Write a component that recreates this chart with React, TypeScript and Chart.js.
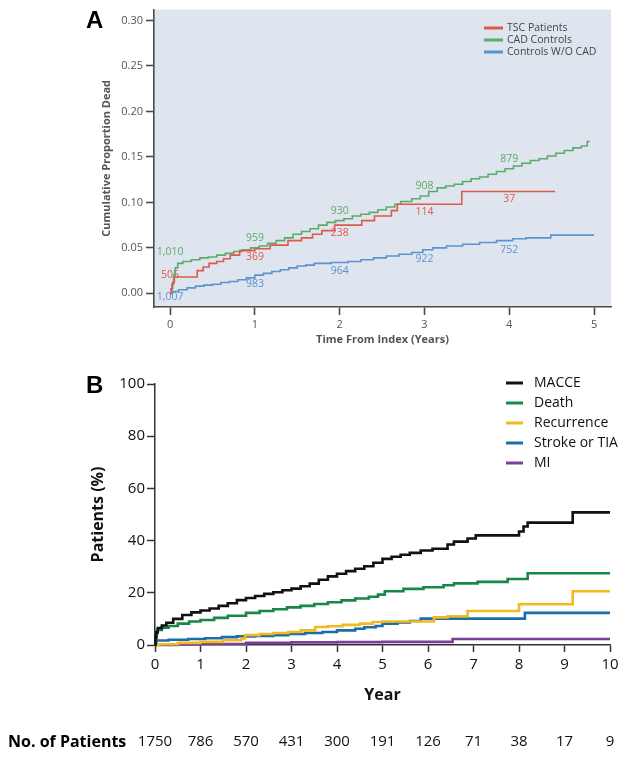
import React, { useEffect, useRef } from 'react';
import { Chart, registerables } from 'chart.js';
Chart.register(...registerables);

const FONT = '"Open Sans", "DejaVu Sans", sans-serif';
const BOLD_FONT = '"Liberation Sans", Arial, sans-serif';

// ---------------- Panel A data ----------------
const yearTicksA = [0, 1, 2, 3, 4, 5];
const propTicksA = [0, 0.05, 0.1, 0.15, 0.2, 0.25, 0.3];
const seriesNamesA = ['TSC Patients', 'CAD Controls', 'Controls W/O CAD'];

const tscTimes = [0, 0.01, 0.03, 0.05, 0.32, 0.39, 0.46, 0.55, 0.63, 0.71, 0.82, 1.0, 1.18, 1.39, 1.55, 1.68, 1.79, 1.94, 2.26, 2.41, 2.61, 2.68, 3.44, 4.54];
const tscValues = [0, 0.005, 0.012, 0.018, 0.025, 0.029, 0.033, 0.035, 0.038, 0.042, 0.047, 0.049, 0.053, 0.058, 0.061, 0.065, 0.069, 0.075, 0.08, 0.085, 0.091, 0.098, 0.112, 0.112];

const cadTimes = [0, 0.02, 0.04, 0.06, 0.09, 0.15, 0.25, 0.35, 0.45, 0.55, 0.65, 0.75, 0.85, 0.95, 1.05, 1.15, 1.25, 1.35, 1.45, 1.55, 1.65, 1.75, 1.85, 1.95, 2.05, 2.15, 2.25, 2.35, 2.45, 2.55, 2.65, 2.72, 2.85, 2.95, 3.05, 3.15, 3.25, 3.35, 3.45, 3.55, 3.65, 3.75, 3.85, 3.95, 4.05, 4.15, 4.25, 4.35, 4.45, 4.55, 4.65, 4.75, 4.85, 4.92, 4.95];
const cadValues = [0, 0.01, 0.02, 0.028, 0.033, 0.035, 0.037, 0.039, 0.04, 0.042, 0.044, 0.046, 0.048, 0.05, 0.052, 0.055, 0.058, 0.061, 0.065, 0.068, 0.071, 0.075, 0.078, 0.08, 0.082, 0.085, 0.087, 0.089, 0.092, 0.095, 0.098, 0.101, 0.104, 0.107, 0.112, 0.116, 0.118, 0.12, 0.123, 0.126, 0.128, 0.131, 0.134, 0.137, 0.14, 0.143, 0.146, 0.148, 0.151, 0.154, 0.157, 0.16, 0.162, 0.167, 0.167];

const noCadTimes = [0, 0.02, 0.1, 0.2, 0.3, 0.4, 0.5, 0.6, 0.7, 0.8, 0.9, 1.0, 1.1, 1.2, 1.3, 1.4, 1.5, 1.6, 1.7, 1.9, 2.1, 2.25, 2.4, 2.55, 2.7, 2.85, 2.98, 3.1, 3.26, 3.45, 3.65, 3.85, 4.04, 4.2, 4.49, 5.0];
const noCadValues = [0, 0.002, 0.004, 0.006, 0.008, 0.009, 0.01, 0.012, 0.013, 0.015, 0.017, 0.02, 0.022, 0.024, 0.026, 0.028, 0.03, 0.031, 0.033, 0.034, 0.035, 0.037, 0.039, 0.041, 0.043, 0.045, 0.048, 0.05, 0.052, 0.054, 0.056, 0.058, 0.06, 0.061, 0.064, 0.064];

const atRiskYearsA = [0, 1, 2, 3, 4];
const atRiskTSC = [505, 369, 238, 114, 37];
const atRiskCAD = [1010, 959, 930, 908, 879];
const atRiskNoCAD = [1007, 983, 964, 922, 752];

// ---------------- Panel B data ----------------
const yearTicksB = [0, 1, 2, 3, 4, 5, 6, 7, 8, 9, 10];
const pctTicksB = [0, 20, 40, 60, 80, 100];
const seriesNamesB = ['MACCE', 'Death', 'Recurrence', 'Stroke or TIA', 'MI'];

const macceTimes = [0, 0.01, 0.03, 0.06, 0.15, 0.25, 0.4, 0.6, 0.8, 1.0, 1.2, 1.4, 1.6, 1.8, 2.0, 2.2, 2.4, 2.6, 2.8, 3.0, 3.2, 3.4, 3.6, 3.8, 4.0, 4.2, 4.4, 4.6, 4.8, 5.0, 5.2, 5.4, 5.6, 5.84, 6.1, 6.43, 6.57, 6.87, 7.05, 8.0, 8.1, 8.19, 9.18, 10.0];
const macceValues = [0, 3, 5, 6.5, 7.5, 8.5, 10, 11.5, 12.5, 13.2, 14, 15, 16, 17.2, 18, 18.8, 19.6, 20.2, 21, 21.6, 22.5, 23.5, 25, 26.3, 27.3, 28.3, 29.2, 30.2, 31.5, 33, 33.8, 34.6, 35.3, 36.2, 36.9, 38.5, 39.6, 40.8, 42, 43.5, 45.4, 46.9, 50.8, 50.8];

const deathTimes = [0, 0.01, 0.03, 0.06, 0.15, 0.3, 0.5, 0.75, 1.0, 1.3, 1.6, 2.0, 2.3, 2.6, 2.9, 3.2, 3.5, 3.8, 4.1, 4.4, 4.7, 4.9, 5.05, 5.46, 5.9, 6.34, 6.57, 7.09, 7.75, 8.19, 10.0];
const deathValues = [0, 2.5, 4.5, 5.8, 6.6, 7.3, 8.2, 9, 9.6, 10.4, 11.2, 12.3, 13, 13.7, 14.4, 15, 15.7, 16.4, 17.1, 17.8, 18.5, 19.3, 20.6, 21.5, 22.1, 22.9, 23.6, 24.2, 25.3, 27.5, 27.5];

const recurTimes = [0, 0.1, 0.5, 1.0, 1.5, 1.9, 1.98, 2.3, 2.6, 2.93, 3.2, 3.52, 3.8, 4.12, 4.5, 4.78, 5.0, 6.13, 6.43, 6.87, 8.0, 9.18, 10.0];
const recurValues = [0, 0.3, 0.8, 1.2, 1.8, 2.5, 3.8, 4.2, 4.6, 5, 5.6, 6.9, 7.2, 7.7, 8.2, 8.8, 9.0, 10.6, 11.0, 13.0, 15.6, 20.6, 20.6];

const strokeTimes = [0, 0.01, 0.03, 0.3, 0.73, 1.1, 1.47, 1.8, 2.2, 2.6, 2.93, 3.3, 3.68, 4.0, 4.4, 4.6, 4.85, 5.0, 5.33, 5.6, 5.84, 8.13, 10.0];
const strokeValues = [0, 1, 1.7, 2.0, 2.3, 2.6, 3.0, 3.3, 3.5, 3.8, 4.2, 4.6, 5, 5.6, 6.2, 6.8, 7.3, 8.2, 8.6, 9.2, 10.1, 12.3, 12.3];

const miTimes = [0, 0.5, 1.0, 2.0, 3.0, 4.0, 5.0, 6.54, 10.0];
const miValues = [0, 0.2, 0.4, 0.8, 1.0, 1.1, 1.2, 2.3, 2.3];

const patientsAtRisk = [1750, 786, 570, 431, 300, 191, 126, 71, 38, 17, 9];

// ---------------- helpers ----------------
const toPoints = (ts: number[], vs: number[]) => ts.map((t, i) => ({ x: t, y: vs[i] }));
const stepValue = (ts: number[], vs: number[], x: number) => {
  let v = vs[0];
  for (let i = 0; i < ts.length; i++) if (ts[i] <= x) v = vs[i];
  return v;
};

const colorsA = ['#dc5a4b', '#5dab6a', '#5b93cf'];
const colorsB = ['#111111', '#17884a', '#f3ba1e', '#1b6ea9', '#7a3f96'];

function configA(): any {
  const bgPlugin = {
    id: 'bgA',
    beforeDraw(chart: any) {
      const { ctx, chartArea: a } = chart;
      ctx.save();
      ctx.fillStyle = '#dfe5ef';
      ctx.fillRect(a.left, a.top, a.right - a.left, a.bottom - a.top);
      ctx.restore();
    },
    beforeDatasetsDraw(chart: any) {
      const { ctx } = chart;
      const xs = chart.scales.x;
      const ys = chart.scales.y;
      const groups = [
        { counts: atRiskTSC, ts: tscTimes, vs: tscValues, color: colorsA[0], off: 8 },
        { counts: atRiskCAD, ts: cadTimes, vs: cadValues, color: colorsA[1], off: -10 },
        { counts: atRiskNoCAD, ts: noCadTimes, vs: noCadValues, color: colorsA[2], off: 9 },
      ];
      ctx.save();
      ctx.font = `10.5px ${FONT}`;
      ctx.textAlign = 'center';
      ctx.textBaseline = 'middle';
      groups.forEach((g) => {
        ctx.fillStyle = g.color;
        atRiskYearsA.forEach((yr, i) => {
          const evalX = yr === 0 ? 0.2 : yr;
          const v = stepValue(g.ts, g.vs, evalX);
          const off = yr === 0 && g.off > 0 && g.counts === atRiskTSC ? -2 : g.off;
          ctx.fillText(g.counts[i].toLocaleString('en-US'), xs.getPixelForValue(yr), ys.getPixelForValue(v) + off);
        });
      });
      ctx.restore();
    },
    afterDraw(chart: any) {
      const { ctx } = chart;
      ctx.save();
      // legend
      ctx.font = `10.5px ${FONT}`;
      ctx.textBaseline = 'middle';
      ctx.textAlign = 'left';
      seriesNamesA.forEach((name, i) => {
        const y = 28 + i * 12;
        ctx.strokeStyle = colorsA[i];
        ctx.lineWidth = 3;
        ctx.beginPath();
        ctx.moveTo(484, y);
        ctx.lineTo(503, y);
        ctx.stroke();
        ctx.fillStyle = '#444';
        ctx.fillText(name, 507, y);
      });
      // panel letter
      ctx.fillStyle = '#000';
      ctx.font = `bold 24px ${BOLD_FONT}`;
      ctx.textBaseline = 'middle';
      ctx.fillText('A', 86, 21);
      ctx.restore();
    },
  };
  return {
    type: 'line',
    data: {
      datasets: [
        { label: seriesNamesA[0], data: toPoints(tscTimes, tscValues), borderColor: colorsA[0] },
        { label: seriesNamesA[1], data: toPoints(cadTimes, cadValues), borderColor: colorsA[1] },
        { label: seriesNamesA[2], data: toPoints(noCadTimes, noCadValues), borderColor: colorsA[2] },
      ].map((d) => ({ ...d, stepped: true, pointRadius: 0, borderWidth: 1.6, fill: false })),
    },
    options: {
      responsive: false,
      animation: false,
      devicePixelRatio: 1,
      layout: { padding: { top: 8, right: 22, left: 0, bottom: 0 } },
      plugins: { legend: { display: false }, tooltip: { enabled: false } },
      scales: {
        x: {
          type: 'linear',
          min: -0.19,
          max: 5.2,
          afterBuildTicks: (s: any) => { s.ticks = yearTicksA.map((v) => ({ value: v })); },
          afterFit: (s: any) => { s.height = 48; },
          border: { color: '#4a4a4a', width: 1.6 },
          grid: { drawOnChartArea: false, tickLength: 8, tickColor: '#4a4a4a', tickWidth: 1.6 },
          ticks: { color: '#555', font: { family: FONT, size: 11 }, padding: 3, maxRotation: 0, autoSkip: false, callback: (v: any) => String(v) },
          title: { display: true, text: 'Time From Index (Years)', color: '#555', font: { family: FONT, size: 11, weight: 'bold' }, padding: { top: 0, bottom: 8.4 } },
        },
        y: {
          min: -0.015,
          max: 0.312,
          afterBuildTicks: (s: any) => { s.ticks = propTicksA.map((v) => ({ value: v })); },
          afterFit: (s: any) => { s.width = 154; },
          border: { color: '#4a4a4a', width: 1.6 },
          grid: { drawOnChartArea: false, tickLength: 8, tickColor: '#4a4a4a', tickWidth: 1.6 },
          ticks: { color: '#555', font: { family: FONT, size: 11 }, padding: 3, autoSkip: false, callback: (v: any) => Number(v).toFixed(2) },
          title: { display: true, text: 'Cumulative Proportion Dead', color: '#555', font: { family: FONT, size: 11, weight: 'bold' }, padding: { top: 100, bottom: 0 } },
        },
      },
    },
    plugins: [bgPlugin],
  };
}

function configB(): any {
  const extras = {
    id: 'extrasB',
    afterDraw(chart: any) {
      const { ctx } = chart;
      const xs = chart.scales.x;
      ctx.save();
      // legend
      ctx.font = `14px ${FONT}`;
      ctx.textBaseline = 'middle';
      ctx.textAlign = 'left';
      seriesNamesB.forEach((name, i) => {
        const y = 23 + i * 20;
        ctx.strokeStyle = colorsB[i];
        ctx.lineWidth = 3;
        ctx.beginPath();
        ctx.moveTo(506, y);
        ctx.lineTo(523, y);
        ctx.stroke();
        ctx.fillStyle = '#111';
        ctx.fillText(name, 534, y);
      });
      // panel letter
      ctx.fillStyle = '#000';
      ctx.font = `bold 24px ${BOLD_FONT}`;
      ctx.fillText('B', 86, 26);
      // numbers at risk
      ctx.font = `bold 16px ${FONT}`;
      ctx.fillStyle = '#000';
      ctx.textAlign = 'left';
      ctx.fillText('No. of Patients', 8, 382);
      ctx.font = `15px ${FONT}`;
      ctx.fillStyle = '#111';
      ctx.textAlign = 'center';
      yearTicksB.forEach((yr, i) => {
        ctx.fillText(String(patientsAtRisk[i]), xs.getPixelForValue(yr), 382);
      });
      ctx.restore();
    },
  };
  const series = [
    [macceTimes, macceValues],
    [deathTimes, deathValues],
    [recurTimes, recurValues],
    [strokeTimes, strokeValues],
    [miTimes, miValues],
  ];
  // draw MI first at bottom layer? keep order so MACCE is on top
  const datasets = series.map(([ts, vs], i) => ({
    label: seriesNamesB[i],
    data: toPoints(ts as number[], vs as number[]),
    borderColor: colorsB[i],
    stepped: true,
    pointRadius: 0,
    borderWidth: 2.6,
    fill: false,
    clip: 4,
    order: i === 0 ? 0 : i,
  }));
  return {
    type: 'line',
    data: { datasets },
    options: {
      responsive: false,
      animation: false,
      devicePixelRatio: 1,
      layout: { padding: { top: 24, right: 23, left: 0, bottom: 0 } },
      plugins: { legend: { display: false }, tooltip: { enabled: false } },
      scales: {
        x: {
          type: 'linear',
          min: 0,
          max: 10,
          afterBuildTicks: (s: any) => { s.ticks = yearTicksB.map((v) => ({ value: v })); },
          afterFit: (s: any) => { s.height = 115; },
          border: { color: '#333', width: 1.5 },
          grid: { drawOnChartArea: false, tickLength: 7, tickColor: '#333', tickWidth: 1.5 },
          ticks: { color: '#111', font: { family: FONT, size: 15 }, padding: 4, maxRotation: 0, autoSkip: false, callback: (v: any) => String(v) },
          title: { display: true, text: 'Year', color: '#111', font: { family: FONT, size: 16, weight: 'bold' }, padding: { top: 0, bottom: 55.4 } },
        },
        y: {
          min: 0,
          max: 100,
          afterBuildTicks: (s: any) => { s.ticks = pctTicksB.map((v) => ({ value: v })); },
          afterFit: (s: any) => { s.width = 155; },
          border: { color: '#333', width: 1.5 },
          grid: { drawOnChartArea: false, tickLength: 8, tickColor: '#333', tickWidth: 1.5 },
          ticks: { color: '#111', font: { family: FONT, size: 15 }, padding: 2, autoSkip: false, callback: (v: any) => String(v) },
          title: { display: true, text: 'Patients (%)', color: '#111', font: { family: FONT, size: 16, weight: 'bold' }, padding: { top: 88.4, bottom: 0 } },
        },
      },
    },
    plugins: [extras],
  };
}

export default function App() {
  const refA = useRef<HTMLCanvasElement>(null);
  const refB = useRef<HTMLCanvasElement>(null);
  useEffect(() => {
    const a = new Chart(refA.current as HTMLCanvasElement, configA());
    const b = new Chart(refB.current as HTMLCanvasElement, configB());
    return () => {
      a.destroy();
      b.destroy();
    };
  }, []);
  return (
    <div style={{ position: 'absolute', left: 0, top: 0, width: 633, height: 760, background: '#fff' }}>
      <canvas ref={refA} width={633} height={355} style={{ position: 'absolute', left: 0, top: 0, width: 633, height: 355 }} />
      <canvas ref={refB} width={633} height={400} style={{ position: 'absolute', left: 0, top: 360, width: 633, height: 400 }} />
    </div>
  );
}
